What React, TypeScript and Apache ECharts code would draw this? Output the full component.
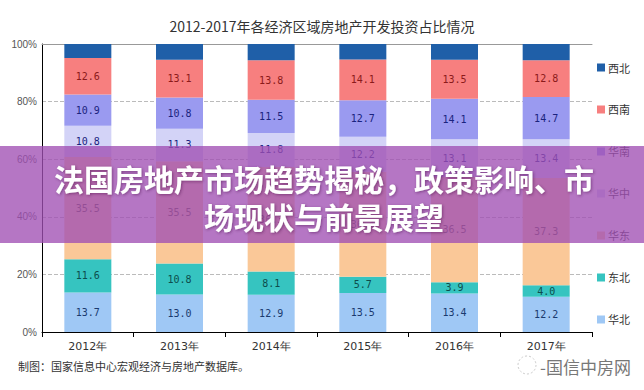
import React, { useEffect, useRef } from "react";
import * as echarts from "echarts";

const years = ["2012年", "2013年", "2014年", "2015年", "2016年", "2017年"];
const huabei = [13.7, 13.0, 12.9, 13.5, 13.4, 12.2];
const dongbei = [11.6, 10.8, 8.1, 5.7, 3.9, 4.0];
const huadong = [35.5, 35.5, 36.3, 36.4, 36.5, 37.3];
const huazhong = [10.8, 11.3, 11.8, 12.2, 13.1, 13.4];
const huanan = [10.9, 10.8, 11.5, 12.7, 14.1, 14.7];
const xinan = [12.6, 13.1, 13.8, 14.1, 13.5, 12.8];
const xibei = [4.9, 5.5, 5.6, 5.4, 5.5, 5.6];
const yTicks = [0, 20, 40, 60, 80, 100];

const seriesDefs = [
  { name: "华北", data: huabei, color: "#9fc8f5", label: "#1a3a6e" },
  { name: "东北", data: dongbei, color: "#36c4c0", label: "#0d4d4d" },
  { name: "华东", data: huadong, color: "#fac898", label: "#6b4a2a" },
  { name: "华中", data: huazhong, color: "#d3d3f7", label: "#1a237e" },
  { name: "华南", data: huanan, color: "#9a9af0", label: "#1a237e" },
  { name: "西南", data: xinan, color: "#f77f7f", label: "#8b1a1a" },
  { name: "西北", data: xibei, color: "#1f5fa8", label: null },
];

export default function App() {
  const ref = useRef<HTMLDivElement>(null);
  useEffect(() => {
    if (!ref.current) return;
    const chart = echarts.init(ref.current, null, { renderer: "svg" });
    chart.setOption({
      animation: false,
      backgroundColor: "#fff",
      title: {
        text: "2012-2017年各经济区域房地产开发投资占比情况",
        left: "center",
        top: 14,
        textStyle: { fontSize: 14, fontWeight: "normal", color: "#333", fontFamily: "Noto Sans CJK SC" },
      },
      legend: {
        orient: "vertical",
        left: 592,
        top: 57,
        itemWidth: 8,
        itemHeight: 8,
        itemGap: 31,
        icon: "rect",
        data: ["西北", "西南", "华南", "华中", "华东", "东北", "华北"],
        textStyle: { fontSize: 11, color: "#333", fontFamily: "Noto Sans CJK SC", padding: [0, 0, 0, -2] },
      },
      grid: { left: 42, right: 52, top: 44, bottom: 58, containLabel: false },
      xAxis: [
        {
          type: "category",
          data: years,
          axisLine: { lineStyle: { color: "#000", width: 1 } },
          axisTick: { show: true, length: 5, lineStyle: { color: "#000" } },
          axisLabel: { fontSize: 11, color: "#333", margin: 9, fontFamily: "DejaVu Sans" },
        },
        {
          type: "category",
          data: years,
          position: "top",
          axisLine: { show: true, lineStyle: { color: "#999" } },
          axisTick: { show: false },
          axisLabel: { show: false },
        },
      ],
      yAxis: {
        type: "value",
        min: yTicks[0],
        max: yTicks[yTicks.length - 1],
        interval: 20,
        axisLine: { show: true, lineStyle: { color: "#000" } },
        axisTick: { show: false },
        axisLabel: { formatter: "{value}%", fontSize: 10, color: "#555", margin: 5 },
        splitLine: { lineStyle: { type: "dashed", color: "#bbb" } },
      },
      series: seriesDefs.map((s) => ({
        name: s.name,
        type: "bar",
        stack: "total",
        barWidth: 47,
        data: s.data,
        itemStyle: { color: s.color },
        label: s.label
          ? {
              show: true,
              position: "inside",
              formatter: (p: any) => Number(p.value).toFixed(1),
              fontSize: 10,
              color: s.label,
              fontFamily: "DejaVu Sans Mono",
            }
          : { show: false },
      })),
      graphic: [
        {
          type: "rect",
          shape: { x: 0, y: 146, width: 644, height: 97 },
          style: { fill: "rgba(160,80,180,0.78)" },
          z: 100,
        },
        {
          type: "text",
          x: 324,
          y: 197,
          z: 101,
          style: {
            text: "法国房地产市场趋势揭秘，政策影响、市\n场现状与前景展望",
            fill: "#fff",
            font: 'bold 30px "Noto Sans CJK SC"',
            textAlign: "center",
            textVerticalAlign: "middle",
            lineHeight: 38,
            textShadowColor: "rgba(60,0,60,0.45)",
            textShadowBlur: 3,
            textShadowOffsetX: 1,
            textShadowOffsetY: 1,
          },
        },
        {
          type: "text",
          x: 18,
          y: 366,
          style: {
            text: "制图：国家信息中心宏观经济与房地产数据库。",
            fill: "#333",
            font: '11px "Noto Sans CJK SC"',
            textVerticalAlign: "middle",
          },
        },
        {
          type: "circle",
          shape: { cx: 527, cy: 365, r: 9 },
          style: { fill: "none", stroke: "#ccc", lineWidth: 1, lineDash: [2, 2] },
        },
        {
          type: "text",
          x: 540,
          y: 366,
          style: {
            text: "-国信中房网",
            fill: "#777",
            font: '17px "Noto Sans CJK SC"',
            textVerticalAlign: "middle",
          },
        },
      ],
    });
    return () => chart.dispose();
  }, []);
  return <div ref={ref} style={{ position: "fixed", left: 0, top: 0, width: 644, height: 390 }} />;
}
